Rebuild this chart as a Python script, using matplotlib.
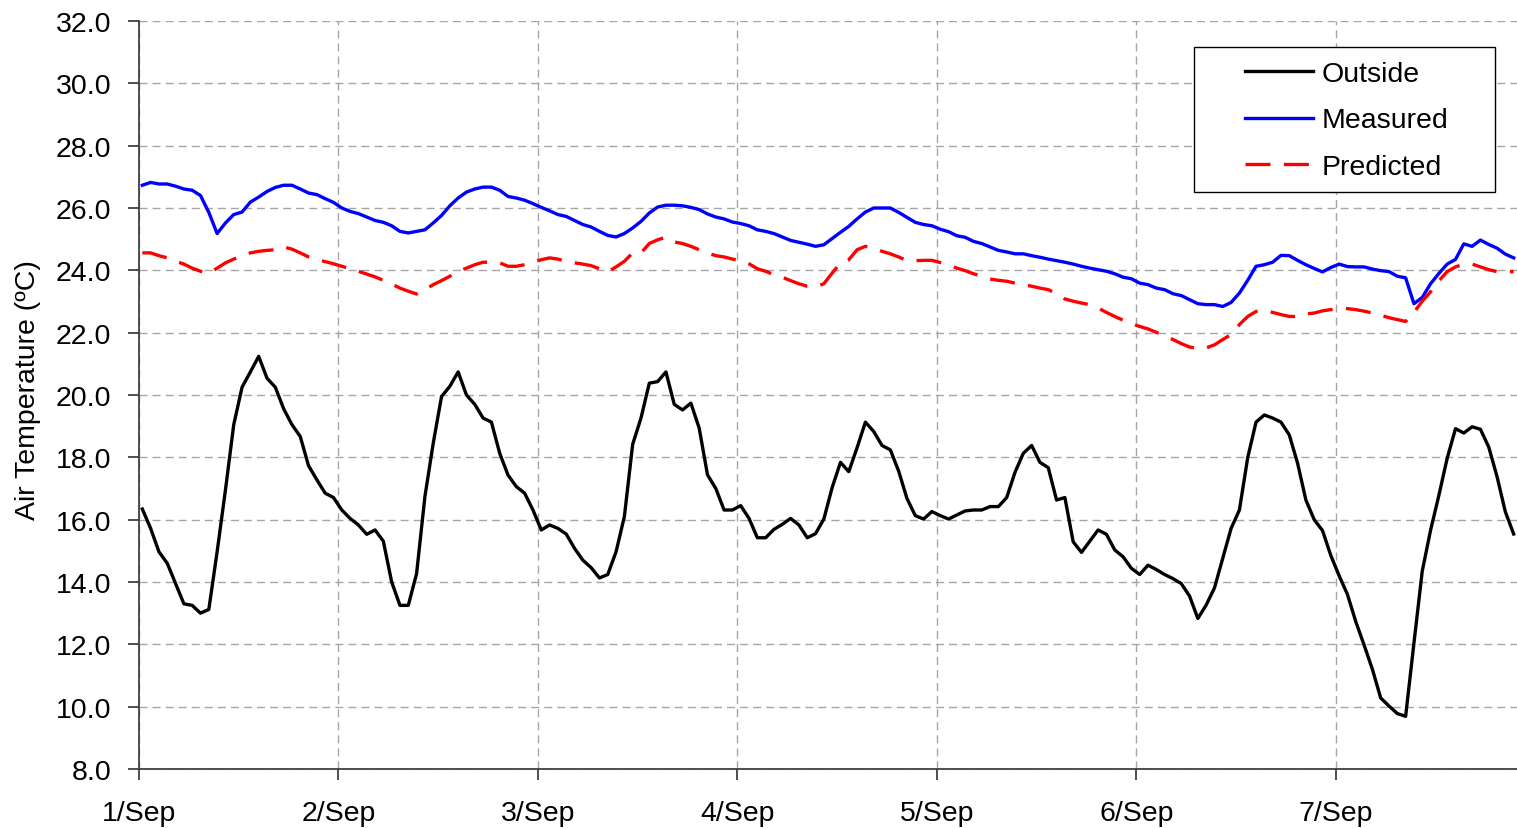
import numpy as np
import matplotlib
matplotlib.use('Agg')
from matplotlib import pyplot as plt
from matplotlib.patches import Rectangle

plt.rcParams['font.family'] = ['Liberation Sans', 'DejaVu Sans']

# hourly readings, 1/Sep 00:00 onward (values in degC)
outside = [16.34, 15.72, 14.97, 14.6, 13.95, 13.3, 13.25, 13.0, 13.12, 14.97,
           16.95, 19.05, 20.25, 20.74, 21.24, 20.54, 20.25, 19.56, 19.05, 18.67,
           17.73, 17.28, 16.85, 16.71, 16.31, 16.04, 15.83, 15.53, 15.67, 15.31,
           14.0, 13.25, 13.25, 14.27, 16.74, 18.45, 19.95, 20.28, 20.74, 20.0,
           19.7, 19.26, 19.13, 18.13, 17.43, 17.06, 16.85, 16.31, 15.67, 15.83,
           15.72, 15.54, 15.08, 14.7, 14.46, 14.13, 14.24, 14.97, 16.1, 18.42,
           19.26, 20.38, 20.43, 20.74, 19.7, 19.52, 19.74, 18.94, 17.44, 17.0,
           16.31, 16.31, 16.45, 16.04, 15.42, 15.42, 15.69, 15.85, 16.04, 15.83,
           15.42, 15.55, 16.02, 17.03, 17.84, 17.54, 18.31, 19.13, 18.83, 18.38,
           18.24, 17.56, 16.68, 16.13, 16.02, 16.26, 16.13, 16.02, 16.15, 16.28,
           16.31, 16.31, 16.42, 16.42, 16.71, 17.52, 18.13, 18.38, 17.84, 17.67,
           16.63, 16.71, 15.29, 14.95, 15.31, 15.67, 15.53, 15.03, 14.81, 14.44,
           14.24, 14.54, 14.4, 14.24, 14.11, 13.95, 13.55, 12.83, 13.26, 13.81,
           14.76, 15.72, 16.31, 17.99, 19.13, 19.36, 19.26, 19.13, 18.72, 17.81,
           16.63, 16.0, 15.65, 14.85, 14.2, 13.6, 12.73, 11.98, 11.2, 10.28,
           10.02, 9.78, 9.69, 12.04, 14.35, 15.66, 16.78, 17.97, 18.92, 18.78,
           18.98, 18.9, 18.33, 17.38, 16.25, 15.54]

measured = [26.73, 26.82, 26.77, 26.77, 26.7, 26.61, 26.57, 26.4, 25.86, 25.18,
            25.52, 25.79, 25.87, 26.19, 26.35, 26.53, 26.66, 26.73, 26.73, 26.61,
            26.48, 26.43, 26.3, 26.18, 26.0, 25.89, 25.82, 25.71, 25.6, 25.54,
            25.43, 25.25, 25.2, 25.25, 25.3, 25.52, 25.76, 26.07, 26.32, 26.51,
            26.61, 26.67, 26.67, 26.57, 26.37, 26.32, 26.25, 26.14, 26.02, 25.91,
            25.79, 25.73, 25.6, 25.47, 25.39, 25.25, 25.12, 25.07, 25.18, 25.36,
            25.57, 25.84, 26.03, 26.09, 26.09, 26.07, 26.02, 25.95, 25.81, 25.71,
            25.65, 25.55, 25.5, 25.43, 25.3, 25.25, 25.18, 25.07, 24.96, 24.9,
            24.84, 24.77, 24.82, 25.02, 25.22, 25.41, 25.65, 25.87, 26.0, 26.0,
            26.0, 25.86, 25.7, 25.54, 25.47, 25.43, 25.32, 25.24, 25.11, 25.06,
            24.93, 24.86, 24.75, 24.64, 24.59, 24.53, 24.53, 24.47, 24.42, 24.36,
            24.31, 24.26, 24.2, 24.13, 24.07, 24.02, 23.97, 23.89, 23.78, 23.73,
            23.59, 23.54, 23.43, 23.38, 23.25, 23.19, 23.06, 22.93, 22.9, 22.9,
            22.84, 22.97, 23.27, 23.68, 24.13, 24.18, 24.26, 24.48, 24.47, 24.32,
            24.18, 24.06, 23.95, 24.09, 24.2, 24.12, 24.11, 24.11, 24.04, 23.99,
            23.96, 23.81, 23.76, 22.93, 23.13, 23.57, 23.9, 24.2, 24.35, 24.85,
            24.77, 24.97, 24.83, 24.71, 24.52, 24.4]

predicted = [24.56, 24.56, 24.47, 24.4, 24.29, 24.2, 24.07, 23.97, 23.9, 24.07,
             24.24, 24.36, 24.47, 24.56, 24.61, 24.64, 24.66, 24.75, 24.68, 24.56,
             24.43, 24.34, 24.28, 24.21, 24.13, 24.05, 23.97, 23.88, 23.79, 23.68,
             23.56, 23.43, 23.33, 23.24, 23.38, 23.54, 23.67, 23.81, 23.97, 24.07,
             24.18, 24.26, 24.26, 24.24, 24.13, 24.13, 24.18, 24.26, 24.34, 24.4,
             24.36, 24.29, 24.24, 24.2, 24.15, 24.05, 23.95, 24.11, 24.29, 24.56,
             24.56, 24.86, 24.98, 25.06, 24.91, 24.86, 24.77, 24.66, 24.56, 24.47,
             24.43, 24.36, 24.32, 24.21, 24.05, 23.97, 23.86, 23.78, 23.67, 23.57,
             23.49, 23.47, 23.57, 23.91, 24.24, 24.34, 24.66, 24.77, 24.72, 24.61,
             24.53, 24.43, 24.31, 24.31, 24.32, 24.32, 24.25, 24.18, 24.07, 23.99,
             23.89, 23.81, 23.72, 23.68, 23.65, 23.59, 23.54, 23.49, 23.43, 23.38,
             23.25, 23.08, 23.01, 22.95, 22.9, 22.79, 22.65, 22.52, 22.4, 22.29,
             22.2, 22.12, 22.01, 21.9, 21.78, 21.65, 21.54, 21.49, 21.51, 21.61,
             21.78, 21.94, 22.26, 22.52, 22.68, 22.72, 22.65, 22.58, 22.52, 22.52,
             22.6, 22.63, 22.7, 22.74, 22.77, 22.77, 22.74, 22.69, 22.63, 22.56,
             22.48, 22.42, 22.36, 22.65, 23.01, 23.31, 23.66, 23.96, 24.11, 24.2,
             24.2, 24.11, 24.02, 23.96, 23.96, 23.96]

day_labels = ['1/Sep', '2/Sep', '3/Sep', '4/Sep', '5/Sep', '6/Sep', '7/Sep']
hours = np.arange(len(outside)) + 0.4

W, H = 1517, 829
fig = plt.figure(figsize=(W / 100, H / 100), dpi=100)
ax = fig.add_axes([139 / W, 1 - 770 / H, (W - 139) / W, 748 / H])

ax.plot(hours, outside, color='black', lw=2.4, label='Outside', zorder=3)
ax.plot(hours, measured, color='#0000ff', lw=2.4, label='Measured', zorder=3)
ax.plot(hours, predicted, color='#ff0000', lw=2.4, dashes=(7.5, 4), label='Predicted', zorder=3)

ax.set_xlim(0, 165.8)
ax.set_ylim(8, 32)
ax.set_yticks(np.arange(8, 33, 2))
ax.set_yticklabels(['%.1f' % v for v in np.arange(8, 33, 2)])
ax.set_xticks(np.arange(len(day_labels)) * 24)
ax.set_xticklabels(day_labels)

ax.grid(True, color='#a6a6a6', linestyle=(0, (5.8, 3.6)), linewidth=1.0, zorder=0)
for s in ['top', 'right']:
    ax.spines[s].set_visible(False)
for s in ['left', 'bottom']:
    ax.spines[s].set_color('#404040')
    ax.spines[s].set_linewidth(1.3)
ax.tick_params(axis='both', labelsize=20.5, direction='out', length=8, width=1.3, color='#404040')
ax.tick_params(axis='y', pad=12)
ax.tick_params(axis='x', pad=14)

ax.set_ylabel('Air Temperature (ºC)', fontsize=20.5, va='center')
ax.yaxis.set_label_coords(-0.0806, 0.508)

# legend box
fig.patches.append(Rectangle((1194 / W, 1 - 193 / H), 301 / W, 145 / H,
                             transform=fig.transFigure, facecolor='white',
                             edgecolor='black', lw=1.0, zorder=5))
leg = fig.legend(loc='upper left', bbox_to_anchor=(1245 / W, 1 - 62 / H),
                 frameon=False, fontsize=20.5, handlelength=2.4, handletextpad=0.3,
                 labelspacing=0.72, borderpad=0, borderaxespad=0)
leg.set_zorder(6)

fig.savefig('out.png', dpi=100)
